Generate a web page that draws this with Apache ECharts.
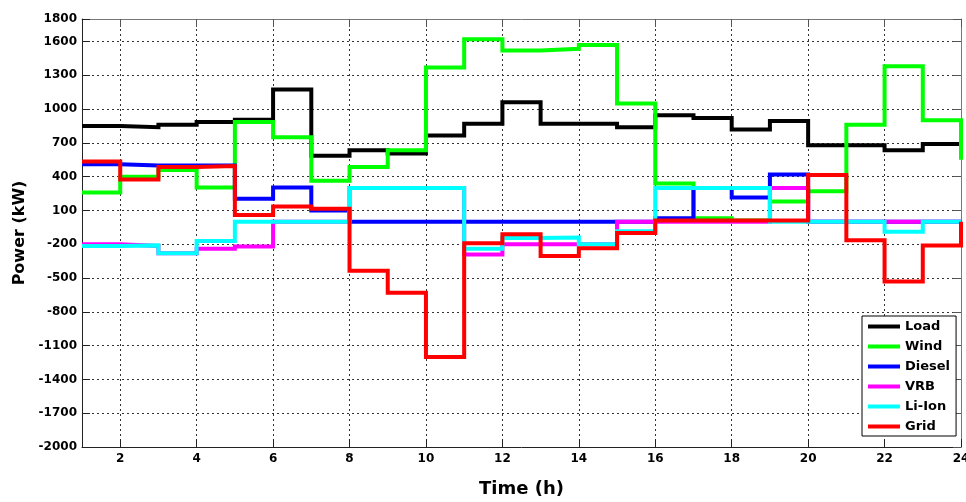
<!DOCTYPE html>
<html>
<head>
<meta charset="utf-8">
<title>Power dispatch</title>
<script src="https://cdn.jsdelivr.net/npm/echarts@6.0.0/dist/echarts.min.js"></script>
<style>
	html, body { margin: 0; padding: 0; background: #fff; }
	#chart { width: 966px; height: 502px; }
</style>
</head>
<body>
<div id="chart"></div>
<script>
// 每小时数据 (值作用于 [h, h+1) 区间, 最后一个点只是终点)
var hours = [1, 2, 3, 4, 5, 6, 7, 8, 9, 10, 11, 12, 13, 14, 15, 16, 17, 18, 19, 20, 21, 22, 23, 24];

var load   = [850, 840, 860, 885, 905, 1175, 585, 635, 605, 765, 870, 1060, 870, 870, 840, 945, 920, 820, 895, 680, 680, 635, 690, 690];
var wind   = [260, 400, 460, 305, 885, 750, 365, 485, 635, 1370, 1620, 1520, 1535, 1570, 1050, 340, 30, 10, 180, 270, 860, 1380, 900, 550];
var diesel = [510, 500, 500, 500, 205, 305, 100, 0, 0, 0, 0, 0, 0, 0, 0, 30, 300, 215, 420, 0, 0, 0, 0, 0];
var vrb    = [-200, -215, -280, -240, -220, 0, 0, 300, 300, 300, -290, -200, -200, -200, 0, 0, 0, 0, 300, 0, 0, 0, 0, 0];
var liIon  = [-215, -210, -280, -170, 0, 0, 0, 300, 300, 300, -240, -145, -140, -200, -85, 300, 300, 300, 0, 0, 0, -90, 0, 0];
var grid   = [535, 375, 485, 495, 60, 135, 115, -435, -630, -1200, -190, -110, -305, -235, -100, 10, 10, 10, 10, 415, -165, -530, -210, 0];

// 刻度
var xTicks = [2, 4, 6, 8, 10, 12, 14, 16, 18, 20, 22, 24];
var yTicks = [-2000, -1700, -1400, -1100, -800, -500, -200, 100, 400, 700, 1000, 1300, 1600, 1800];

var names  = ["Load", "Wind", "Diesel", "VRB", "Li-Ion", "Grid"];
var colors = ["#000000", "#00ff00", "#0000ff", "#ff00ff", "#00ffff", "#ff0000"];
var values = [load, wind, diesel, vrb, liIon, grid];

var FONT = "DejaVu Sans";

function pairs(ys) {
	var out = [];
	for (var i = 0; i < hours.length; i++) {
		out.push([hours[i], ys[i]]);
	}
	return out;
}

// 不要千分位
function plain(v) {
	return String(v);
}

var series = [];
for (var k = 0; k < names.length; k++) {
	series.push({
		name: names[k],
		type: 'line',
		step: 'end',
		showSymbol: false,
		symbol: 'none',
		clip: true,
		color: colors[k],
		lineStyle: { width: 4, color: colors[k], join: 'miter', cap: 'butt' },
		data: pairs(values[k])
	});
}

var labelStyle = { color: '#000', fontFamily: FONT, fontWeight: 'bold', fontSize: 12, formatter: plain };
var dashed = { show: true, lineStyle: { color: '#333', width: 1, type: [2, 3] } };

var chart = echarts.init(document.getElementById('chart'), null, { renderer: 'canvas' });

chart.setOption({
	animation: false,
	backgroundColor: '#fff',
	grid: { left: 82, right: 5, top: 19, bottom: 55, containLabel: false, outerBoundsMode: 'none' },
	legend: {
		data: names,
		orient: 'vertical',
		left: 862,
		top: 316,
		icon: 'rect',
		itemWidth: 32,
		itemHeight: 4,
		itemGap: 7,
		padding: [4, 6, 3, 6],
		backgroundColor: '#fff',
		borderColor: '#000',
		borderWidth: 1,
		borderRadius: 0,
		selectedMode: false,
		textStyle: { color: '#000', fontFamily: FONT, fontWeight: 'bold', fontSize: 13 }
	},
	xAxis: [{
		type: 'value',
		min: 1,
		max: 24,
		position: 'bottom',
		name: 'Time (h)',
		nameLocation: 'middle',
		nameGap: 33,
		nameTextStyle: { color: '#000', fontFamily: FONT, fontWeight: 'bold', fontSize: 18 },
		axisLine: { show: true, onZero: false, lineStyle: { color: '#222', width: 1 } },
		axisTick: { show: true, inside: true, length: 8, customValues: xTicks, lineStyle: { color: '#222' } },
		axisLabel: Object.assign({ margin: 6, customValues: xTicks }, labelStyle),
		splitLine: dashed
	}, {
		type: 'value',
		min: 1,
		max: 24,
		position: 'top',
		axisLine: { show: true, onZero: false, lineStyle: { color: '#777', width: 1 } },
		axisTick: { show: true, inside: true, length: 8, customValues: xTicks, lineStyle: { color: '#555' } },
		axisLabel: { show: false },
		splitLine: { show: false }
	}],
	yAxis: [{
		type: 'value',
		min: -2000,
		max: 1800,
		position: 'left',
		name: 'Power (kW)',
		nameLocation: 'middle',
		nameGap: 42,
		nameTextStyle: { color: '#000', fontFamily: FONT, fontWeight: 'bold', fontSize: 16 },
		axisLine: { show: true, onZero: false, lineStyle: { color: '#222', width: 1 } },
		axisTick: { show: true, inside: true, length: 8, customValues: yTicks, lineStyle: { color: '#222' } },
		axisLabel: Object.assign({ margin: 5, customValues: yTicks }, labelStyle),
		splitLine: dashed
	}, {
		type: 'value',
		min: -2000,
		max: 1800,
		position: 'right',
		axisLine: { show: true, onZero: false, lineStyle: { color: '#777', width: 1 } },
		axisTick: { show: true, inside: true, length: 8, customValues: yTicks, lineStyle: { color: '#555' } },
		axisLabel: { show: false },
		splitLine: { show: false }
	}],
	series: series
});
</script>
</body>
</html>
